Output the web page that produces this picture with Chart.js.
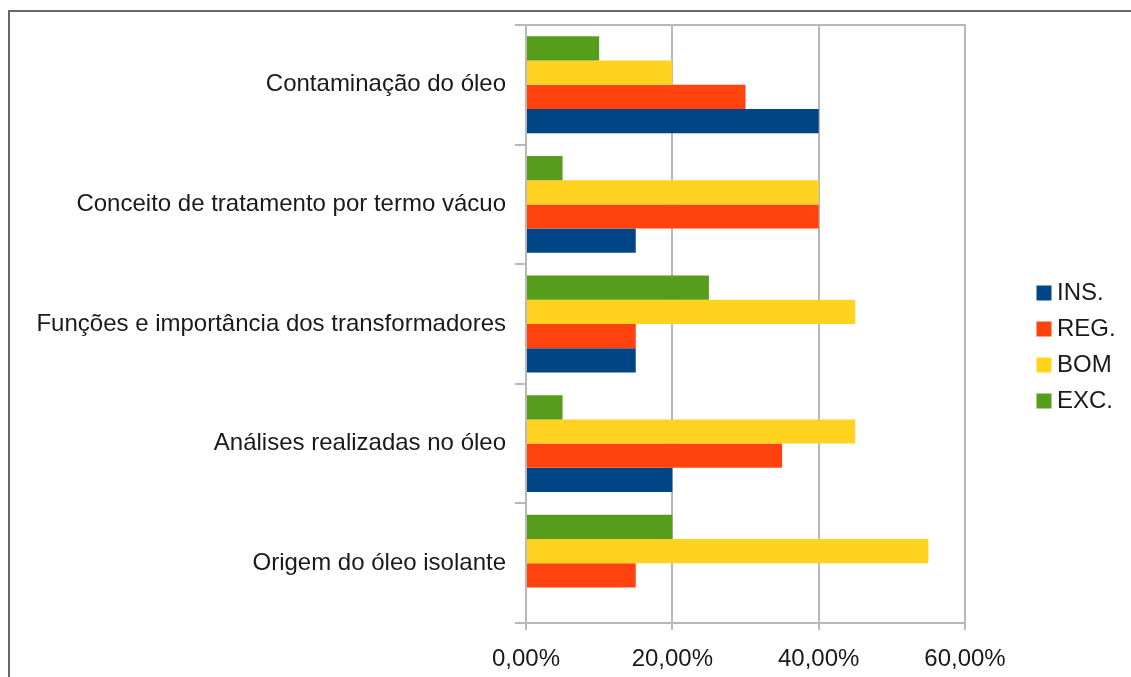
<!DOCTYPE html>
<html>
<head>
<meta charset="utf-8">
<script src="https://cdn.jsdelivr.net/npm/chart.js@4.4.1/dist/chart.umd.min.js"></script>
<style>
  html, body { margin: 0; padding: 0; background: #ffffff; }
  #wrap { position: relative; width: 1131px; height: 677px; overflow: hidden; }
  #frame { position: absolute; left: 8px; top: 10px; width: 1200px; height: 800px;
           border-top: 2px solid #666666; border-left: 2px solid #666666; }
  #c { position: absolute; left: 0; top: 0; }
</style>
</head>
<body>
<div id="wrap">
  <div id="frame"></div>
  <canvas id="c" width="1131" height="677"></canvas>
</div>
<script>
// ---- data (percent) ----
const categories = [
  'Contaminação do óleo',
  'Conceito de tratamento por termo vácuo',
  'Funções e importância dos transformadores',
  'Análises realizadas no óleo',
  'Origem do óleo isolante'
];
const seriesNames = ['INS.', 'REG.', 'BOM', 'EXC.'];
const insValues = [40, 15, 15, 20, 0];
const regValues = [30, 40, 15, 35, 15];
const bomValues = [20, 40, 45, 45, 55];
const excValues = [10, 5, 25, 5, 20];
const xTickLabels = ['0,00%', '20,00%', '40,00%', '60,00%'];

const COLORS = { ins: '#004586', reg: '#ff420e', bom: '#ffd320', exc: '#579d1c' };
const GRID = '#b8b8b8';
const TEXT = '#1a1a1a';

Chart.defaults.font.family = '"Liberation Sans", Arial, sans-serif';
Chart.defaults.font.size = 24;
Chart.defaults.color = TEXT;

const layoutPlugin = {
  id: 'layoutPlugin',
  beforeLayout(chart) {
    const lg = chart.legend;
    if (lg && !lg._wrappedFit) {
      const f = lg.fit.bind(lg);
      lg.fit = function () { f(); this.width = 166; };
      lg._wrappedFit = true;
    }
  },
  afterLayout(chart) {
    const lg = chart.legend;
    const ca = chart.chartArea;
    lg.left = ca.right + 66;
    lg.right = chart.width;
    lg.width = lg.right - lg.left;
    lg.top = 269;
    lg.bottom = chart.height;
    lg.height = lg.bottom - lg.top;
  },
  afterDraw(chart) {
    const ca = chart.chartArea;
    const ctx = chart.ctx;
    ctx.save();
    ctx.strokeStyle = GRID;
    ctx.lineWidth = 2;
    ctx.beginPath();
    ctx.moveTo(ca.left - 11, ca.top);
    ctx.lineTo(ca.right + 1, ca.top);
    ctx.stroke();
    ctx.restore();
  }
};

new Chart(document.getElementById('c'), {
  type: 'bar',
  data: {
    labels: categories,
    datasets: [
      { label: seriesNames[3], data: excValues, backgroundColor: COLORS.exc, borderWidth: 0 },
      { label: seriesNames[2], data: bomValues, backgroundColor: COLORS.bom, borderWidth: 0 },
      { label: seriesNames[1], data: regValues, backgroundColor: COLORS.reg, borderWidth: 0 },
      { label: seriesNames[0], data: insValues, backgroundColor: COLORS.ins, borderWidth: 0 }
    ]
  },
  options: {
    indexAxis: 'y',
    responsive: false,
    animation: false,
    devicePixelRatio: 1,
    layout: { padding: { top: 25, right: 0, bottom: 0, left: 0 } },
    datasets: { bar: { categoryPercentage: 0.81, barPercentage: 1.0 } },
    plugins: {
      tooltip: { enabled: false },
      legend: {
        position: 'right',
        align: 'start',
        reverse: true,
        labels: {
          usePointStyle: true,
          pointStyle: 'rect',
          boxWidth: 2,
          boxHeight: 15,
          padding: 12,
          color: TEXT,
          font: { size: 24 }
        }
      }
    },
    scales: {
      x: {
        min: 0, max: 60,
        ticks: {
          stepSize: 20,
          padding: 15,
          color: TEXT,
          font: { size: 24 },
          callback: (v, i) => xTickLabels[i]
        },
        grid: { color: GRID, lineWidth: 2, tickLength: 7, drawTicks: true },
        border: { display: true, color: GRID, width: 2 },
        afterFit: s => { s.height = 54; }
      },
      y: {
        ticks: { padding: 9, color: TEXT, font: { size: 24 } },
        grid: { offset: true, drawOnChartArea: false, drawTicks: true, tickLength: 11, color: GRID, lineWidth: 2 },
        border: { display: true, color: GRID, width: 2 },
        afterFit: s => { s.width = 526; }
      }
    }
  },
  plugins: [layoutPlugin]
});
</script>
</body>
</html>
